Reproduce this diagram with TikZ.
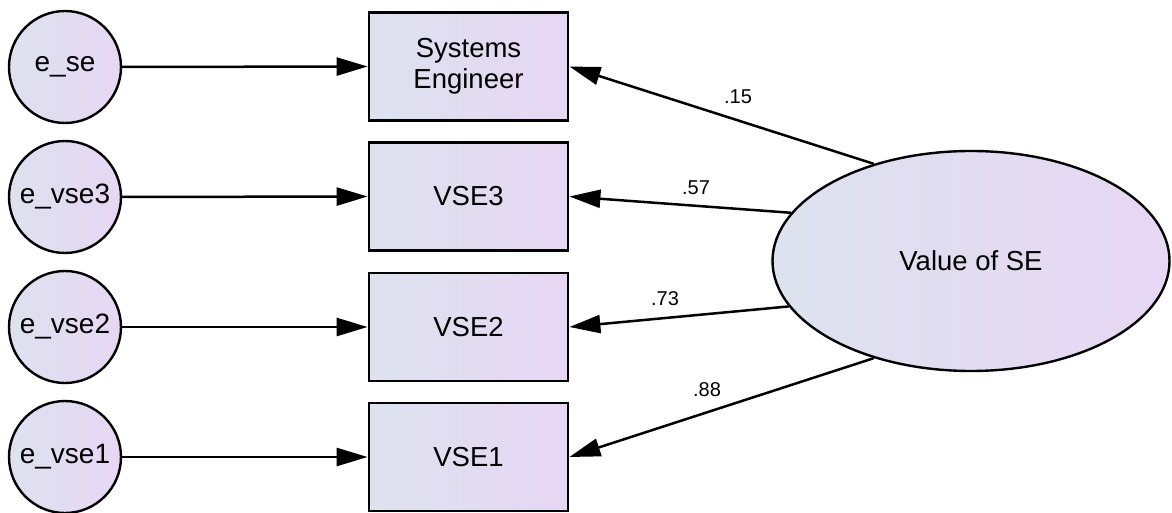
\documentclass[tikz,border=0pt]{standalone}
\usepackage{fontspec}
\setmainfont{Liberation Sans}
\usetikzlibrary{shapes.geometric,arrows.meta}
\definecolor{fillL}{RGB}{221,226,238}
\definecolor{fillR}{RGB}{231,214,244}
\tikzset{
  shade/.style={left color=fillL, right color=fillR, draw=black},
  errc/.style={shade, circle, line width=2.4pt, minimum size=112pt, inner sep=0pt,
    font=\fontsize{28}{30}\selectfont},
  obs/.style={shade, rectangle, line width=2.8pt, minimum width=199pt, minimum height=108pt,
    inner sep=0pt, align=center, font=\fontsize{27.5}{31}\selectfont},
  lat/.style={shade, ellipse, line width=2.4pt, minimum width=397pt, minimum height=220pt,
    inner sep=0pt, font=\fontsize{27.5}{30}\selectfont},
  conn/.style={line width=2.5pt, -{Triangle[length=31pt,width=18pt]}},
  coef/.style={font=\fontsize{20}{22}\selectfont, inner sep=0pt}
}
\begin{document}
\begin{tikzpicture}[x=1pt,y=-1pt]
\useasboundingbox (0,0) rectangle (1172,513);
\node[errc] (ese) at (65,67) {e\_se};
\node[errc] (e3) at (65,197) {e\_vse3};
\node[errc] (e2) at (65,327) {e\_vse2};
\node[errc] (e1) at (65,457) {e\_vse1};
\node[obs] (se) at (468.5,66.5) {Systems\\Engineer};
\node[obs] (v3) at (468.5,196.5) {VSE3};
\node[obs] (v2) at (468.5,327) {VSE2};
\node[obs] (v1) at (468.5,457) {VSE1};
\node[lat] (val) at (971,261) {Value of SE};
\draw[conn] (ese.east) -- (se.west);
\draw[conn] (e3.east) -- (v3.west);
\draw[conn] (e2.east) -- (v2.west);
\draw[conn] (e1.east) -- (v1.west);
\draw[conn] (val.135) -- (se.east);
\draw[conn] (val.165) -- (v3.east);
\draw[conn] (val.194) -- (v2.east);
\draw[conn] (val.225) -- (v1.east);
\node[coef] (c1) at (738,97) {.15};
\node[coef] (c2) at (696,188) {.57};
\node[coef] (c3) at (665,299) {.73};
\node[coef] (c4) at (707,390) {.88};
\end{tikzpicture}
\end{document}
